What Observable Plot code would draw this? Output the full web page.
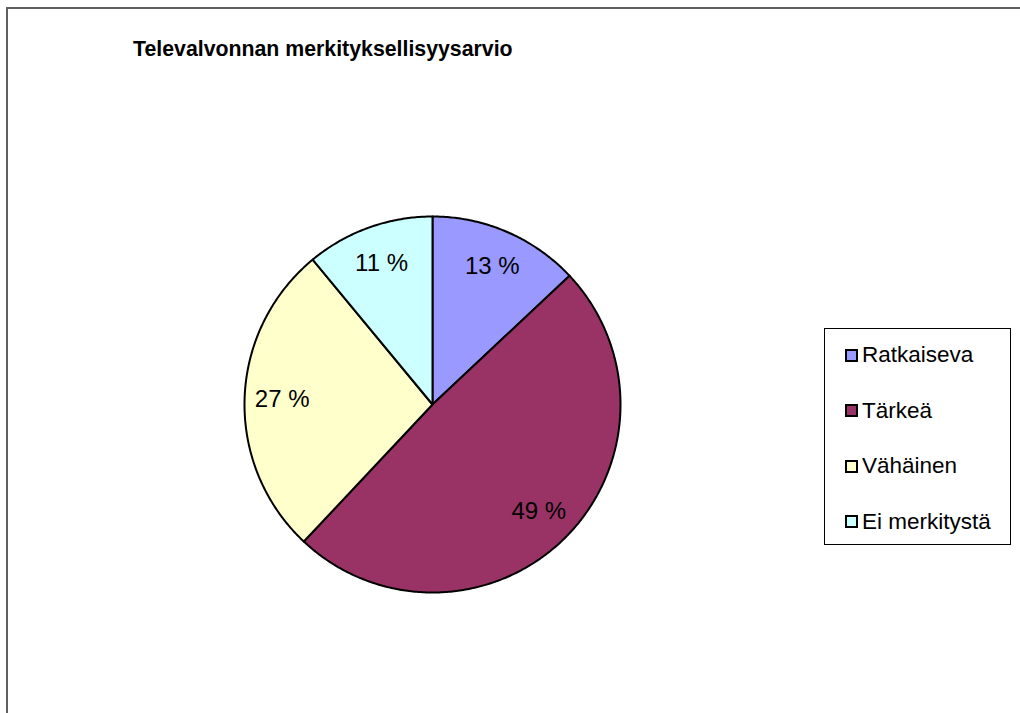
<!DOCTYPE html>
<html>
<head>
<meta charset="utf-8">
<script src="https://cdn.jsdelivr.net/npm/d3@7"></script>
<script src="https://cdn.jsdelivr.net/npm/@observablehq/plot@0.6"></script>
<style>
  html, body { margin: 0; padding: 0; background: #fff; }
  #page { position: relative; width: 1020px; height: 713px; overflow: hidden; font-family: "Liberation Sans", Arial, sans-serif; }
  #frame { position: absolute; left: 6px; top: 7px; width: 1100px; height: 800px; border-left: 2px solid #5f5f5f; border-top: 2px solid #5f5f5f; }
  #title { position: absolute; left: 133px; top: 37px; font-weight: bold; font-size: 21.3px; color: #000; white-space: nowrap; }
  #chart { position: absolute; left: 0; top: 0; }
  #legend { position: absolute; left: 824px; top: 328px; width: 187px; height: 217px; border: 1px solid #000; box-sizing: border-box; background: #fff; }
  .row { position: absolute; left: 20px; display: flex; align-items: center; font-size: 22.5px; color: #000; white-space: nowrap; line-height: 26px; }
  .sw { width: 9px; height: 9px; border: 2px solid #000; margin-right: 4px; }
</style>
</head>
<body>
<div id="page">
  <div id="frame"></div>
  <div id="chart"></div>
  <div id="title">Televalvonnan merkityksellisyysarvio</div>
  <div id="legend"></div>
</div>
<script>
const categories = ["Ratkaiseva", "Tärkeä", "Vähäinen", "Ei merkitystä"];
const values = [13, 49, 27, 11];
const colors = ["#9999FF", "#993366", "#FFFFCC", "#CCFFFF"];

const arcs = d3.pie().sort(null)(values);
const slicePts = [];
arcs.forEach((a, i) => {
  const n = Math.max(2, Math.ceil((a.endAngle - a.startAngle) / 0.01));
  slicePts.push({cat: categories[i], x: 0, y: 0});
  for (let k = 0; k <= n; k++) {
    const t = a.startAngle + (a.endAngle - a.startAngle) * k / n;
    slicePts.push({cat: categories[i], x: Math.sin(t), y: Math.cos(t)});
  }
  slicePts.push({cat: categories[i], x: 0, y: 0});
});
const labels = arcs.map((a, i) => {
  const m = (a.startAngle + a.endAngle) / 2;
  return {text: values[i] + " %", x: 0.8 * Math.sin(m), y: 0.8 * Math.cos(m)};
});

const plot = Plot.plot({
  width: 1020,
  height: 713,
  margin: 0,
  x: {domain: [-1, 1], range: [244, 620], axis: null},
  y: {domain: [-1, 1], range: [592, 216], axis: null},
  color: {type: "ordinal", domain: categories, range: colors},
  style: {background: "transparent", fontFamily: "Liberation Sans, Arial, sans-serif"},
  marks: [
    Plot.line(slicePts, {x: "x", y: "y", z: "cat", fill: "cat", stroke: "#000", strokeWidth: 2, strokeLinejoin: "round"}),
    Plot.text(labels, {x: "x", y: "y", text: "text", fontSize: 24, fill: "#000"})
  ]
});
document.getElementById("chart").appendChild(plot);

const legend = document.getElementById("legend");
categories.forEach((c, i) => {
  const row = document.createElement("div");
  row.className = "row";
  row.style.top = (13 + i * 55.5) + "px";
  const sw = document.createElement("div");
  sw.className = "sw";
  sw.style.background = colors[i];
  const tx = document.createElement("span");
  tx.textContent = c;
  row.appendChild(sw);
  row.appendChild(tx);
  legend.appendChild(row);
});
</script>
</body>
</html>
